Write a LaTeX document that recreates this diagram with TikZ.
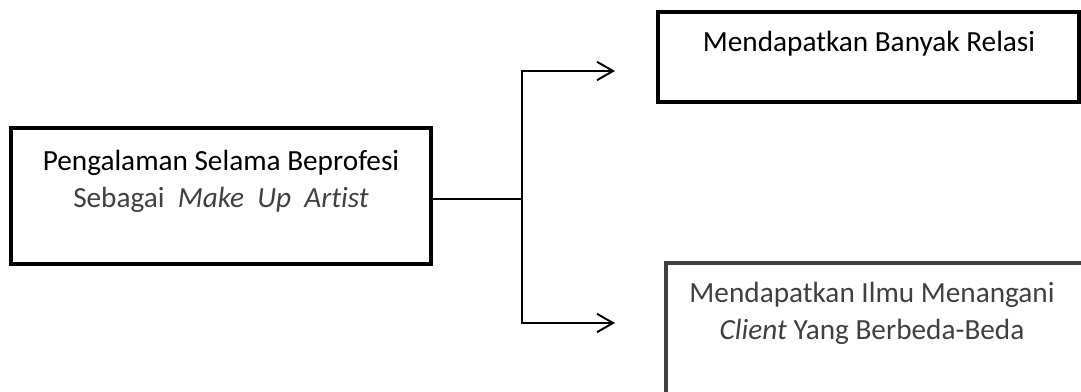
\documentclass[tikz,border=0pt]{standalone}
\usepackage{fontspec}
\setmainfont[Ligatures=NoCommon]{Carlito}
\usepackage{xcolor}
\definecolor{scangray}{RGB}{64,64,64}
\usepackage{tikz}
\usetikzlibrary{arrows.meta,positioning}

\begin{document}
\begin{tikzpicture}[x=0.025cm, y=-0.025cm,
  flowbox/.style={draw, line width=2.8pt, inner sep=0pt},
  flowtext/.style={align=center, font=\fontsize{20.8}{26.3}\selectfont, inner sep=0pt},
  link/.style={line width=1.4pt},
  arrowlink/.style={link, -{Straight Barb[length=0.4cm, width=0.46cm, line width=1.4pt]}}]

\useasboundingbox (0,0) rectangle (1081,392);
\clip (0,0) rectangle (1081,392);

% boxes
\node[flowbox, minimum width=10.5cm, minimum height=3.4cm] (asal) at (221,196) {};
\node[flowbox, minimum width=10.5cm, minimum height=2.25cm] (relasi) at (868.5,57) {};
\node[flowbox, draw=scangray, minimum width=11.1cm, minimum height=4.175cm] (ilmu) at (888,346.5) {};

\node[flowtext] (asalteks) at (221,181.5) {%
  Pengalaman Selama Beprofesi\\
  \textcolor{scangray}{Sebagai\ \ \textit{Make\ \ Up\ \ Artist}}};
\node[flowtext] (relasiteks) at (869,44) {Mendapatkan Banyak Relasi};
\node[flowtext, text=scangray] (ilmuteks) at (872,313) {%
  Mendapatkan Ilmu Menangani\\
  \textit{Client} Yang Berbeda-Beda};

% connectors
\coordinate (cabang) at (522,199);
\coordinate (ujungatas) at (615,71);
\coordinate (ujungbawah) at (615,323);
\draw[link] (asal.east |- cabang) -- (cabang);
\draw[arrowlink] (cabang) |- (ujungatas);
\draw[arrowlink] (cabang) |- (ujungbawah);

\end{tikzpicture}
\end{document}
